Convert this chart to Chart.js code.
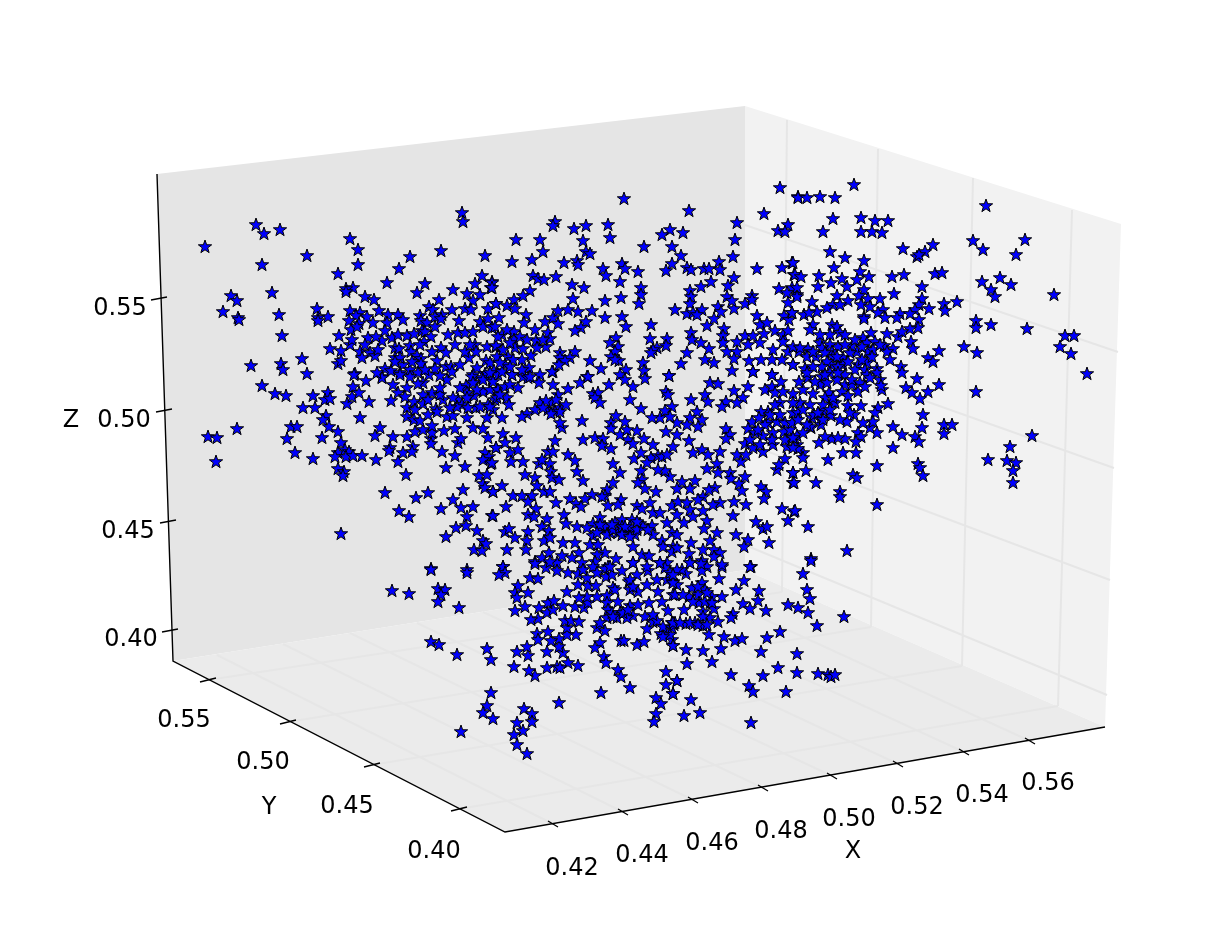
<!DOCTYPE html>
<html>
<head>
<meta charset="utf-8">
<title>3D scatter</title>
<script src="https://cdn.jsdelivr.net/npm/chart.js@4/dist/chart.umd.min.js"></script>
<style>
  html, body { margin: 0; padding: 0; background: #fff; }
  canvas { display: block; }
</style>
</head>
<body>
<canvas id="chart" width="1228" height="928"></canvas>
<script>
// The source is a 3D plot. Only its flat projection can be read off the picture,
// so every list below is in projected units (the two hidden linear scales).
const farLeftStars = [[205,247],[256,225],[264,234],[280,230],[262,265],[307,256],[350,239],[358,250],[358,265],[338,274],[399,269],[410,257],[441,251],[462,213],[463,222],[485,256],[387,283],[425,284],[417,293],[453,290],[482,276],[475,284],[492,282],[491,288],[467,294],[480,295],[473,301],[439,300],[353,288],[346,289],[346,292],[365,297],[374,300],[231,296],[237,301],[272,293],[223,312],[238,318],[239,320],[279,315],[317,309],[328,317],[318,318],[318,321],[282,336],[251,366],[281,364],[283,370],[302,359],[307,374],[339,336],[330,349],[341,351],[350,345],[338,364],[341,361]];
const upperLeftCluster = [[350,311],[360,313],[356,316],[367,317],[379,311],[388,315],[398,315],[403,320],[387,323],[373,323],[349,321],[359,324],[351,330],[357,327],[368,338],[382,341],[376,337],[385,331],[392,338],[398,335],[407,336],[414,334],[420,316],[421,321],[427,323],[429,307],[433,310],[435,317],[442,315],[441,319],[435,327],[452,310],[465,309],[471,310],[459,321],[448,335],[458,333],[465,333],[473,332],[480,322],[488,309],[496,304],[488,319],[483,327],[492,328],[422,331],[425,332],[431,337],[424,342],[410,346],[395,348],[399,349],[360,352],[370,353],[375,356],[362,358],[411,352],[417,356],[421,359],[421,364],[441,348],[446,353],[437,361],[435,369],[446,367],[451,367],[395,358],[403,365],[385,369],[391,371],[410,370],[400,373],[418,373],[429,375],[487,347],[496,347],[475,345],[476,352],[469,358],[486,361],[490,363],[477,368],[494,371],[485,374],[473,375],[355,374],[382,377]];
const lowerLeftStars = [[262,386],[275,394],[286,396],[313,396],[328,393],[325,400],[330,399],[303,408],[315,408],[326,416],[323,420],[291,427],[297,427],[329,427],[338,432],[287,439],[322,438],[341,443],[237,429],[208,437],[217,438],[216,462],[295,453],[313,459],[338,453],[335,457],[345,450],[349,452],[346,457],[353,456],[362,456],[376,460],[338,469],[344,472],[343,476],[347,404],[352,397],[353,387],[359,393],[366,381],[354,375],[369,402],[391,401],[360,418],[380,428],[375,436],[393,437],[407,437],[390,448],[389,451],[403,453],[413,447],[412,452],[398,462],[406,475],[442,452],[455,456],[446,468],[465,467],[458,443],[461,439],[431,439],[431,444],[432,433],[415,432],[423,430],[444,431],[455,429],[473,428],[483,429],[488,438],[496,448],[485,453],[489,457],[483,460],[491,464],[479,476],[487,475],[483,484],[485,488],[493,492],[463,490],[385,493],[428,493],[416,498],[453,500],[441,509],[461,508],[473,507],[399,511],[409,517],[467,517],[492,516],[466,526],[456,528],[477,531],[446,537],[483,541],[486,544],[474,550],[482,551],[341,534],[431,569],[467,570]];
const midLeftCluster = [[407,408],[436,409],[447,417],[453,416],[467,418],[407,417],[414,420],[420,421],[432,426],[414,402],[423,404],[443,400],[432,393],[440,395],[398,393],[407,388],[393,385],[423,383],[447,380],[466,386],[474,396],[458,400],[462,405],[476,408],[488,405],[487,418],[483,392],[497,390],[482,378],[492,380],[472,377],[410,377],[400,375],[382,378],[377,373],[423,395],[437,412],[467,393],[473,383],[483,380],[490,390],[495,400],[477,390],[467,398],[457,407],[453,398],[468,408],[480,407],[493,410],[498,375],[490,373],[460,388],[493,382],[498,390],[505,387],[510,385],[518,388],[497,398],[507,398],[509,405],[523,377],[528,378],[553,385],[558,395],[490,407],[500,395],[512,375],[553,372],[548,410],[552,403],[560,408],[540,403],[400,358],[412,362],[425,370],[440,376],[452,372],[418,384],[405,397],[415,410],[428,415],[395,362],[378,350],[365,345],[352,340],[420,345],[432,352],[455,345],[465,352],[460,365],[470,345],[440,388],[428,400],[450,408]];
const topMiddleStars = [[624,199],[689,211],[764,214],[780,188],[798,197],[737,223],[735,240],[788,225],[778,231],[785,232],[555,222],[553,226],[574,229],[586,226],[608,225],[610,238],[670,230],[662,235],[683,233],[672,247],[644,247],[516,240],[540,240],[543,252],[532,260],[512,262],[583,241],[586,252],[590,254],[564,263],[577,261],[578,265],[622,264],[625,269],[603,269],[606,276],[638,272],[620,282],[681,256],[672,264],[666,271],[687,268],[691,270],[704,269],[709,269],[719,262],[720,270],[733,257],[757,269],[782,268],[792,263],[794,275],[533,276],[538,279],[544,280],[556,277],[572,285],[584,288],[573,299],[530,291],[523,296],[514,300],[496,304],[492,283],[492,288],[507,306],[515,309],[526,315],[499,318],[524,323],[545,322],[553,318],[558,311],[568,310],[578,312],[592,311],[558,324],[586,322],[581,328],[575,331],[605,301],[621,298],[605,318],[622,317],[626,327],[641,288],[641,295],[639,304],[651,325],[675,310],[701,287],[711,282],[690,291],[691,297],[690,304],[687,314],[693,313],[702,310],[697,315],[718,307],[721,312],[734,309],[727,297],[728,286],[734,278],[732,301],[745,304],[752,296],[752,300],[714,319],[707,326],[724,329]];
const upperMiddleStars = [[535,330],[548,333],[502,335],[514,332],[514,340],[536,341],[550,339],[546,347],[496,346],[515,348],[523,349],[508,357],[531,356],[522,360],[505,365],[529,368],[502,372],[512,375],[540,375],[552,372],[560,353],[575,352],[560,358],[570,358],[565,361],[559,365],[590,361],[601,369],[587,377],[616,338],[610,343],[618,347],[615,352],[611,357],[619,361],[615,360],[626,370],[620,375],[650,339],[667,339],[666,346],[657,348],[653,350],[651,353],[643,363],[644,371],[669,376],[687,353],[681,364],[691,333],[692,340],[701,343],[709,349],[705,360],[714,363],[723,336],[723,343],[727,352],[737,342],[737,352],[734,359],[732,371],[745,336],[753,336],[748,345],[757,316],[760,325],[767,323],[764,334],[775,331],[783,335],[788,331],[792,313],[784,316],[789,320],[783,342],[773,350],[788,352],[772,360],[782,360],[760,343],[749,361],[761,360],[793,365],[753,372],[772,375],[788,303],[779,289],[792,288],[797,295],[787,293],[495,327],[507,330],[498,337],[510,343],[503,350],[520,337],[527,340],[497,357],[513,360],[537,348],[543,340],[500,363],[522,370],[510,367],[530,377]];
const centerStars = [[539,383],[568,389],[580,383],[588,377],[593,394],[598,393],[595,398],[600,403],[609,385],[625,380],[633,387],[645,379],[630,400],[641,409],[669,376],[666,392],[668,395],[691,400],[705,395],[710,383],[718,384],[708,402],[734,391],[748,387],[743,398],[737,403],[726,402],[722,407],[753,372],[772,375],[765,390],[772,387],[781,382],[775,393],[783,392],[793,394],[780,403],[768,412],[761,412],[752,422],[759,418],[768,423],[777,422],[785,423],[793,413],[748,429],[763,436],[755,433],[773,433],[784,432],[792,437],[745,444],[753,448],[763,452],[773,445],[787,447],[797,445],[737,455],[741,462],[746,455],[785,459],[777,470],[779,465],[793,473],[793,483],[761,487],[766,492],[764,499],[782,509],[794,512],[788,521],[756,522],[763,529],[767,527],[736,535],[748,540],[744,547],[769,543],[751,567],[726,429],[730,435],[726,439],[697,412],[690,418],[702,420],[698,427],[687,425],[677,423],[660,418],[652,418],[672,407],[665,411],[670,417],[666,432],[677,435],[689,441],[673,447],[653,445],[644,439],[637,431],[628,440],[633,444],[620,435],[627,430],[625,422],[616,416],[611,423],[611,429],[582,421],[562,428],[560,423],[566,405],[555,412],[560,412],[556,400],[546,401],[535,410],[527,414],[522,417],[502,418],[551,414],[543,408],[770,415],[775,405],[780,415],[765,425],[758,430],[772,440],[785,440],[790,430],[750,440],[760,445]];
const ringStars = [[503,434],[516,438],[505,443],[496,448],[510,453],[518,450],[511,462],[523,462],[492,463],[555,441],[548,452],[553,452],[539,464],[550,464],[542,460],[525,475],[551,472],[552,478],[559,480],[535,478],[537,486],[502,486],[493,492],[513,496],[522,496],[532,496],[528,502],[536,509],[544,492],[550,492],[556,503],[506,507],[493,516],[528,515],[534,517],[564,515],[547,519],[566,524],[583,440],[595,438],[603,439],[602,446],[611,449],[568,455],[575,461],[577,472],[583,481],[613,464],[620,473],[613,483],[607,490],[605,496],[592,495],[602,497],[585,499],[570,499],[576,504],[581,507],[608,506],[621,500],[618,505],[634,459],[641,453],[651,458],[647,463],[658,456],[662,457],[667,455],[693,453],[702,450],[708,455],[720,452],[717,464],[707,469],[718,473],[730,473],[731,479],[745,477],[739,484],[742,491],[734,502],[746,505],[733,516],[720,503],[713,505],[703,497],[698,500],[715,488],[709,490],[695,481],[690,489],[682,482],[677,489],[670,477],[665,471],[658,470],[641,471],[642,480],[638,483],[645,489],[656,492]];
const lowerCenterStars = [[650,503],[637,506],[642,509],[653,513],[660,513],[672,506],[678,502],[687,503],[690,510],[677,515],[667,523],[684,523],[693,517],[703,511],[707,521],[704,529],[717,533],[710,541],[691,543],[672,533],[677,535],[600,518],[615,523],[622,520],[632,520],[640,524],[652,526],[593,524],[577,527],[587,528],[602,530],[610,533],[618,533],[627,533],[635,535],[653,535],[593,536],[605,527],[630,527],[662,541],[663,547],[673,547],[633,547],[590,545],[598,545],[605,553],[597,555],[579,553],[572,558],[575,543],[563,543],[542,527],[549,531],[528,532],[527,541],[544,541],[550,538],[526,550],[507,550],[505,532],[509,529],[515,538],[503,567],[535,562],[542,558],[549,553],[562,556],[557,563],[582,563],[616,559],[595,562],[608,567],[633,563],[642,555],[649,556],[660,563],[667,563],[672,552],[677,548],[689,554],[690,563],[703,550],[714,550],[720,553],[714,557],[702,561],[722,567],[707,567],[607,535],[613,530],[622,527],[637,530],[643,527],[625,527],[600,525],[612,525],[637,522],[597,533],[622,535],[630,537],[648,530]];
const topRightStars = [[854,185],[798,198],[807,198],[820,197],[835,198],[986,206],[833,219],[823,232],[861,218],[875,221],[888,221],[861,232],[872,232],[882,233],[903,249],[933,245],[925,252],[917,257],[919,255],[973,241],[983,250],[1025,240],[1016,255],[830,252],[845,258],[864,261],[834,268],[793,263],[860,272],[819,276],[842,279],[869,277],[857,280],[831,283],[818,287],[847,287],[795,275],[801,277],[797,288],[892,277],[904,275],[935,274],[942,273],[982,282],[1000,278],[1011,285],[991,290],[995,297],[1054,295],[922,287],[894,294],[864,290],[859,296],[868,299],[880,299],[922,299],[837,296],[848,301],[812,302],[797,297]];
const upperRightCluster = [[861,305],[870,307],[919,305],[929,309],[944,304],[957,302],[945,311],[915,310],[883,310],[878,313],[900,314],[910,314],[897,318],[885,318],[864,317],[864,319],[919,320],[918,328],[910,329],[976,321],[976,328],[991,325],[1027,329],[1065,336],[1074,336],[1060,347],[1071,354],[964,347],[977,353],[833,305],[827,308],[840,305],[804,315],[817,312],[809,313],[792,313],[813,325],[832,325],[837,327],[810,330],[840,333],[845,335],[871,333],[863,338],[887,334],[898,337],[902,332],[911,342],[913,349],[893,349],[884,346],[887,352],[939,351],[928,358],[933,362],[901,367],[877,369],[867,343],[875,342],[868,352],[873,350],[857,352],[852,346],[838,347],[830,345],[820,343],[822,348],[808,349],[799,352],[832,352],[843,358],[816,357],[833,357],[867,363],[858,365],[831,365],[843,365],[793,365],[805,369],[793,347],[800,348],[807,357],[825,353],[813,352],[827,362],[837,357],[850,353],[862,347],[872,357],[848,362],[838,367],[862,360],[822,367],[813,367],[880,345],[855,340],[845,345],[830,335],[820,335],[855,370],[845,375],[865,370],[880,380],[890,360]];
const lowerRightStars = [[1087,374],[976,392],[917,379],[939,385],[906,388],[912,393],[928,392],[920,399],[923,415],[922,428],[915,437],[919,442],[944,425],[952,425],[944,434],[1032,436],[1010,447],[988,460],[1007,461],[1016,463],[1013,471],[1013,483],[918,464],[920,468],[923,476],[877,466],[893,448],[893,427],[902,435],[877,433],[870,428],[888,404],[878,408],[875,413],[882,390],[881,386],[873,422],[861,406],[848,406],[854,415],[847,422],[863,423],[858,433],[861,437],[856,442],[856,453],[843,453],[828,460],[845,439],[832,439],[838,438],[825,437],[819,443],[797,436],[803,453],[803,458],[798,449],[806,471],[793,473],[794,483],[816,483],[853,475],[857,478],[840,492],[840,497],[877,505],[795,511],[808,527],[847,551],[811,559],[812,418],[821,419],[831,416],[814,415],[823,411],[811,428],[821,425],[810,427],[798,413],[800,403],[792,423],[793,403],[829,393],[832,402],[813,394],[803,390],[835,403],[820,385],[799,382],[808,378],[830,373],[845,385],[852,385],[858,392],[842,392],[848,396],[867,375],[877,373],[902,373],[822,377],[827,383],[807,373],[815,382],[825,375],[837,380],[838,373],[852,380],[860,383],[870,378],[865,387],[825,398],[833,398],[823,405],[810,405],[803,410],[818,413],[798,420],[807,425],[803,433],[793,438],[793,448],[823,420],[830,410],[850,413],[840,420]];
const bottomLeftStars = [[431,570],[467,573],[503,567],[505,573],[499,575],[392,591],[409,594],[438,589],[445,590],[441,595],[438,602],[459,608],[431,642],[439,645],[457,655],[487,649],[491,660],[491,693],[487,706],[483,713],[493,719],[461,732],[524,709],[532,714],[532,722],[517,723],[523,731],[514,735],[517,745],[527,754],[559,703],[601,693],[630,688],[618,670],[621,677],[604,657],[606,663],[578,666],[568,663],[557,667],[560,668],[547,668],[535,676],[529,671],[514,667],[528,656],[517,652],[527,647],[547,652],[563,653],[559,647],[559,639],[551,641],[537,634],[538,640],[548,632],[576,635],[567,635],[567,628],[565,621],[571,621],[579,622],[538,619],[531,620],[515,611],[525,607],[539,608],[547,613],[553,610],[548,603],[554,601],[563,606],[575,607],[584,608],[588,603],[597,597],[587,597],[579,598],[567,592],[578,585],[588,586],[596,586],[587,578],[530,578],[538,579],[518,586],[528,593],[515,593],[517,598]];
const bottomMiddleStars = [[535,564],[546,568],[557,571],[568,573],[578,574],[550,562],[593,567],[606,577],[612,575],[605,569],[622,571],[633,563],[637,575],[648,571],[665,568],[613,588],[615,590],[629,582],[630,590],[638,592],[647,585],[658,592],[667,580],[673,582],[673,595],[607,596],[607,603],[618,602],[630,606],[638,605],[649,603],[662,602],[668,611],[608,610],[620,613],[607,618],[617,618],[633,616],[645,617],[653,622],[657,621],[647,629],[672,623],[597,628],[605,631],[600,643],[595,648],[621,641],[624,641],[637,645],[644,642],[661,634],[666,632],[672,640],[673,646],[666,672],[677,681],[666,685],[673,694],[656,698],[661,704],[656,714],[654,722],[675,623],[612,613],[627,618],[623,613],[628,610],[600,623],[613,617],[653,615],[663,627],[670,635],[672,628],[663,637],[657,580],[630,580],[633,587],[583,570],[610,567],[597,573],[647,567],[660,563],[670,573],[677,585]];
const bottomRightStars = [[750,567],[722,565],[811,561],[803,574],[719,579],[744,581],[702,571],[686,574],[682,570],[690,563],[701,564],[807,590],[810,599],[759,591],[758,601],[736,590],[702,583],[692,588],[705,590],[698,595],[722,597],[712,597],[689,597],[675,595],[710,603],[699,603],[714,609],[684,610],[703,612],[733,614],[731,618],[743,604],[750,609],[766,611],[788,605],[798,608],[808,613],[817,626],[844,617],[710,618],[718,622],[703,617],[695,623],[686,624],[674,625],[703,626],[709,635],[724,637],[735,641],[742,639],[767,638],[780,632],[761,652],[797,654],[721,649],[703,651],[686,650],[673,646],[687,664],[712,662],[731,675],[763,676],[778,668],[797,673],[818,674],[828,675],[831,677],[835,675],[786,692],[749,686],[753,692],[677,681],[673,694],[691,700],[700,713],[684,716],[751,723],[673,583],[677,570],[673,623],[680,623],[690,623],[698,625],[707,625],[705,602],[712,603],[707,593],[693,602],[683,595],[673,575],[698,587]];

const starGroups = [farLeftStars, upperLeftCluster, lowerLeftStars, midLeftCluster, topMiddleStars, upperMiddleStars, centerStars, ringStars, lowerCenterStars, topRightStars, upperRightCluster, lowerRightStars, bottomLeftStars, bottomMiddleStars, bottomRightStars];

const xTicks = ["0.42", "0.44", "0.46", "0.48", "0.50", "0.52", "0.54", "0.56"];
const yTicks = ["0.40", "0.45", "0.50", "0.55"];
const zTicks = ["0.40", "0.45", "0.50", "0.55"];

// projected box
const leftPane = [[157,174],[745,106],[745,570],[173,661]];
const rightPane = [[745,106],[1121,224],[1105,727],[745,570]];
const floorPane = [[173,661],[505,832],[1105,727],[745,570]];
const axisOutline = [[157,174],[173,661],[505,832],[1105,727]];

// where the ticks sit, same order as the label lists
const xTickFoot = [[553,824],[623,812],[693,800],[763,788],[832,776],[898,764],[964,752],[1030,741]];
const xGridBack = [[217,655],[283,644],[350,633],[417,623],[483,612],[549,601],[614,591],[679,580]];
const yTickFoot = [[459,809],[372,765],[288,722],[208,680]];
const yGridFloor = [[1058,706],[962,666],[871,627],[782,592]];
const yGridTop = [[1072,210],[973,178],[878,149],[787,120]];
const zGridLeft = [[745,545],[745,443],[745,337],[745,225]];
const zGridRight = [[1107,695],[1110,580],[1114,468],[1118,352]];
const zTickFoot = [[170,631],[168,522],[164,411],[159,299]];

const xLabelAt = [[572,866],[642,853],[712,841],[781,829],[849,817],[917,805],[982,793],[1048,781]];
const yLabelAt = [[434,849],[347,804],[263,760],[184,718]];
const zLabelAt = [[131,637],[128,529],[124,418],[120,306]];
const axisTitles = [["X",853,849],["Y",269,805],["Z",71,418]];

function toPts(list) {
  return list.map(p => ({ x: p[0], y: p[1] }));
}

// segments joined into one line, NaN breaks the path between them
function segments(pairs) {
  const out = [];
  pairs.forEach(s => {
    out.push({ x: s[0][0], y: s[0][1] }, { x: s[1][0], y: s[1][1] }, { x: NaN, y: NaN });
  });
  return out;
}

function starImage() {
  const c = document.createElement("canvas");
  c.width = 20; c.height = 20;
  const g = c.getContext("2d");
  const R = 7, r = R * 0.4;
  g.beginPath();
  for (let i = 0; i < 10; i++) {
    const a = -Math.PI / 2 + i * Math.PI / 5;
    const d = i % 2 ? r : R;
    g.lineTo(10 + d * Math.cos(a), 10 + d * Math.sin(a));
  }
  g.closePath();
  g.fillStyle = "#0000ff";
  g.fill();
  g.lineWidth = 1;
  g.strokeStyle = "#000";
  g.lineJoin = "miter";
  g.stroke();
  return c;
}

function pane(list, color) {
  return { data: toPts(list), showLine: true, fill: "shape", backgroundColor: color, borderWidth: 0, pointRadius: 0 };
}

function lines(pairs, color, width) {
  return { data: segments(pairs), showLine: true, spanGaps: false, fill: false, borderColor: color, borderWidth: width, pointRadius: 0 };
}

const gridPairs = []
  .concat(yGridFloor.map((p, i) => [p, yGridTop[i]]))
  .concat(zGridLeft.map((p, i) => [p, zGridRight[i]]))
  .concat(yTickFoot.map((p, i) => [p, yGridFloor[i]]))
  .concat(xTickFoot.map((p, i) => [p, xGridBack[i]]));

const tickPairs = []
  .concat(xTickFoot.map(p => [[p[0] - 5, p[1] - 3], [p[0] + 5, p[1] + 3]]))
  .concat(yTickFoot.map(p => [[p[0] - 8, p[1] + 2], [p[0] + 8, p[1] - 2]]))
  .concat(zTickFoot.map(p => [[p[0] - 8, p[1] + 1], [p[0] + 8, p[1] - 2]]));

const tickText = {
  id: "tickText",
  afterDraw(chart) {
    const ctx = chart.ctx, sx = chart.scales.x, sy = chart.scales.y;
    ctx.save();
    ctx.fillStyle = "#000";
    ctx.font = '24px "DejaVu Sans"';
    ctx.textAlign = "center";
    ctx.textBaseline = "alphabetic";
    const put = (t, x, y) => ctx.fillText(t, sx.getPixelForValue(x), sy.getPixelForValue(y) + 9);
    xTicks.forEach((t, i) => put(t, xLabelAt[i][0], xLabelAt[i][1]));
    yTicks.forEach((t, i) => put(t, yLabelAt[i][0], yLabelAt[i][1]));
    zTicks.forEach((t, i) => put(t, zLabelAt[i][0], zLabelAt[i][1]));
    axisTitles.forEach(t => put(t[0], t[1], t[2]));
    ctx.restore();
  }
};

const star = starImage();

new Chart(document.getElementById("chart"), {
  type: "scatter",
  data: {
    datasets: [
      { data: toPts(starGroups.flat()), pointStyle: star, pointRadius: 8, pointHoverRadius: 8 },
      lines(tickPairs, "#000000", 1.3),
      { data: toPts(axisOutline), showLine: true, fill: false, borderColor: "#000000", borderWidth: 1.4, pointRadius: 0 },
      lines(gridPairs, "#e6e6e6", 2),
      pane(floorPane, "#ebebeb"),
      pane(rightPane, "#f2f2f2"),
      pane(leftPane, "#e5e5e5")
    ]
  },
  options: {
    responsive: false,
    animation: false,
    events: [],
    layout: { padding: 0, autoPadding: false },
    plugins: { legend: { display: false }, tooltip: { enabled: false } },
    scales: {
      x: { type: "linear", min: 0, max: 1228, display: false },
      y: { type: "linear", min: 0, max: 928, reverse: true, display: false }
    }
  },
  plugins: [tickText]
});
</script>
</body>
</html>
